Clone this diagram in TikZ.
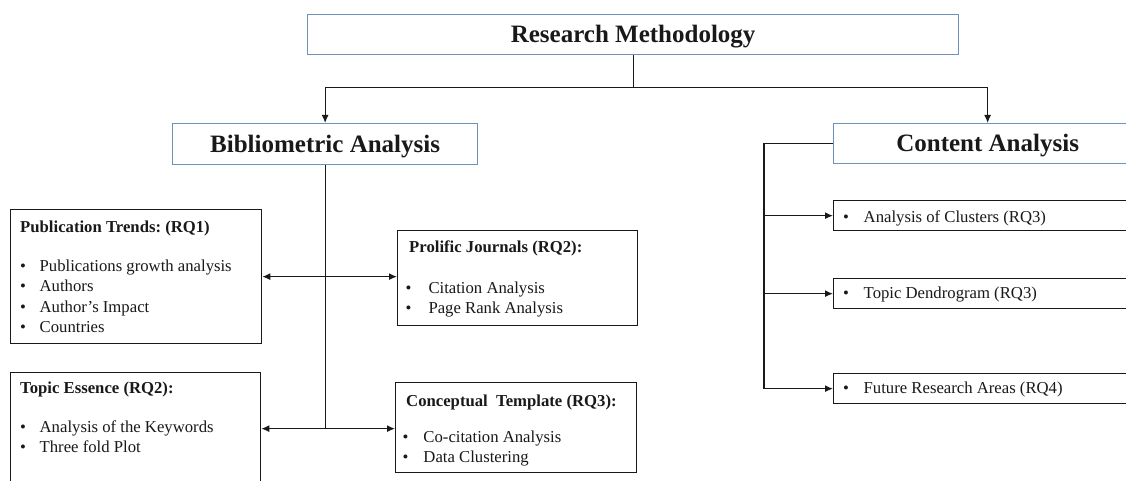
\documentclass[tikz,border=0pt]{standalone}
\usepackage{fontspec}
\setmainfont{Liberation Serif}
\usetikzlibrary{arrows.meta}
\frenchspacing
\definecolor{headblue}{RGB}{110,145,190}
\definecolor{ink}{RGB}{25,25,25}
\newcommand{\bodyfont}{\fontsize{16.7}{20.6}\selectfont}
\newcommand{\itm}[2]{\makebox[#1][l]{\textbullet}#2}
\begin{document}
\begin{tikzpicture}[x=1pt,y=-1pt,
  headbox/.style={draw=headblue, line width=1.3pt, inner sep=0pt, anchor=north west,
    font=\fontsize{25}{30}\selectfont\bfseries, text height=16pt, text depth=0pt, text=ink},
  itembox/.style={draw=ink, line width=1.3pt, inner sep=0pt, anchor=north west},
  boxtitle/.style={anchor=base west, inner sep=0pt, text=ink, font=\fontsize{16.7}{20.6}\selectfont\bfseries},
  boxlist/.style={anchor=base west, inner sep=0pt, text=ink, font=\bodyfont},
  conn/.style={draw=ink, line width=1.3pt},
  tip/.style={conn, -{Latex[length=8pt,width=7pt]}},
  twotip/.style={conn, {Latex[length=8pt,width=7pt]}-{Latex[length=8pt,width=7pt]}}]
\useasboundingbox (0,0) rectangle (1126,481);
\clip (0,0) rectangle (1126,481);
\fill[white] (0,0) rectangle (1126,481);

% heading boxes
\node[headbox, minimum width=651pt, minimum height=40pt] (rm) at (307,14) {Research Methodology};
\node[headbox, minimum width=305pt, minimum height=41pt] (bib) at (172,123) {Bibliometric Analysis};
\node[headbox, minimum width=308pt, minimum height=40pt] (con) at (833,123) {Content Analysis};

% bibliometric branch boxes
\node[itembox, minimum width=251pt, minimum height=134pt] (pub) at (10,209) {};
\node[itembox, minimum width=240pt, minimum height=95pt] (pro) at (397,230) {};
\node[itembox, minimum width=250pt, minimum height=112pt] (te) at (10,372) {};
\node[itembox, minimum width=241pt, minimum height=90pt] (ct) at (395,382) {};

% content branch boxes
\node[itembox, minimum width=320pt, minimum height=30pt] (cl) at (833,200) {};
\node[itembox, minimum width=320pt, minimum height=30pt] (td) at (833,278) {};
\node[itembox, minimum width=320pt, minimum height=30pt] (fr) at (833,373) {};

% box texts
\node[boxtitle] (pubt) at (20,232) {Publication Trends: (RQ1)};
\node[boxlist] (publ) at (20,271) {\begin{tabular}[t]{@{}l@{}}
  \itm{19.5pt}{Publications growth analysis}\\
  \itm{19.5pt}{Authors}\\
  \itm{19.5pt}{Author’s Impact}\\
  \itm{19.5pt}{Countries}\end{tabular}};

\node[boxtitle] (prot) at (409,252) {Prolific Journals (RQ2):};
\node[boxlist] (prol) at (405.5,293) {\begin{tabular}[t]{@{}l@{}}
  \itm{22.8pt}{Citation Analysis}\\
  \itm{22.8pt}{Page Rank Analysis}\end{tabular}};

\node[boxtitle] (tet) at (20,393) {Topic Essence (RQ2):};
\node[boxlist] (tel) at (20,432) {\begin{tabular}[t]{@{}l@{}}
  \itm{19.5pt}{Analysis of the Keywords}\\
  \itm{19.5pt}{Three fold Plot}\end{tabular}};

\node[boxtitle] (ctt) at (406,406) {Conceptual~ Template (RQ3):};
\node[boxlist] (ctl) at (402.5,442) {\begin{tabular}[t]{@{}l@{}}
  \itm{20.8pt}{Co-citation Analysis}\\
  \itm{20.8pt}{Data Clustering}\end{tabular}};

\node[boxlist] (clt) at (843,222) {\itm{20.5pt}{Analysis of Clusters (RQ3)}};
\node[boxlist] (tdt) at (843,298) {\itm{20.5pt}{Topic Dendrogram (RQ3)}};
\node[boxlist] (frt) at (843,393) {\itm{20.5pt}{Future Research Areas (RQ4)}};

% top split
\draw[conn] (rm.south) -- ++(0,32) coordinate (split);
\draw[tip] (split) -| (bib.north);
\draw[tip] (split) -| (con.north);

% bibliometric trunk and its double arrows
\draw[conn] (bib.south) -- (bib.south |- ct.west);
\draw[twotip] (pub.east) -- (pub.east -| pro.west);
\draw[twotip] (te.east) -- (te.east -| ct.west);

% content trunk and its arrows
\draw[conn] (con.west) -- ++(-69,0) coordinate (cbend) -- (cbend |- fr.west);
\draw[tip] (cbend |- cl.west) -- (cl.west);
\draw[tip] (cbend |- td.west) -- (td.west);
\draw[tip] (cbend |- fr.west) -- (fr.west);
\end{tikzpicture}
\end{document}
